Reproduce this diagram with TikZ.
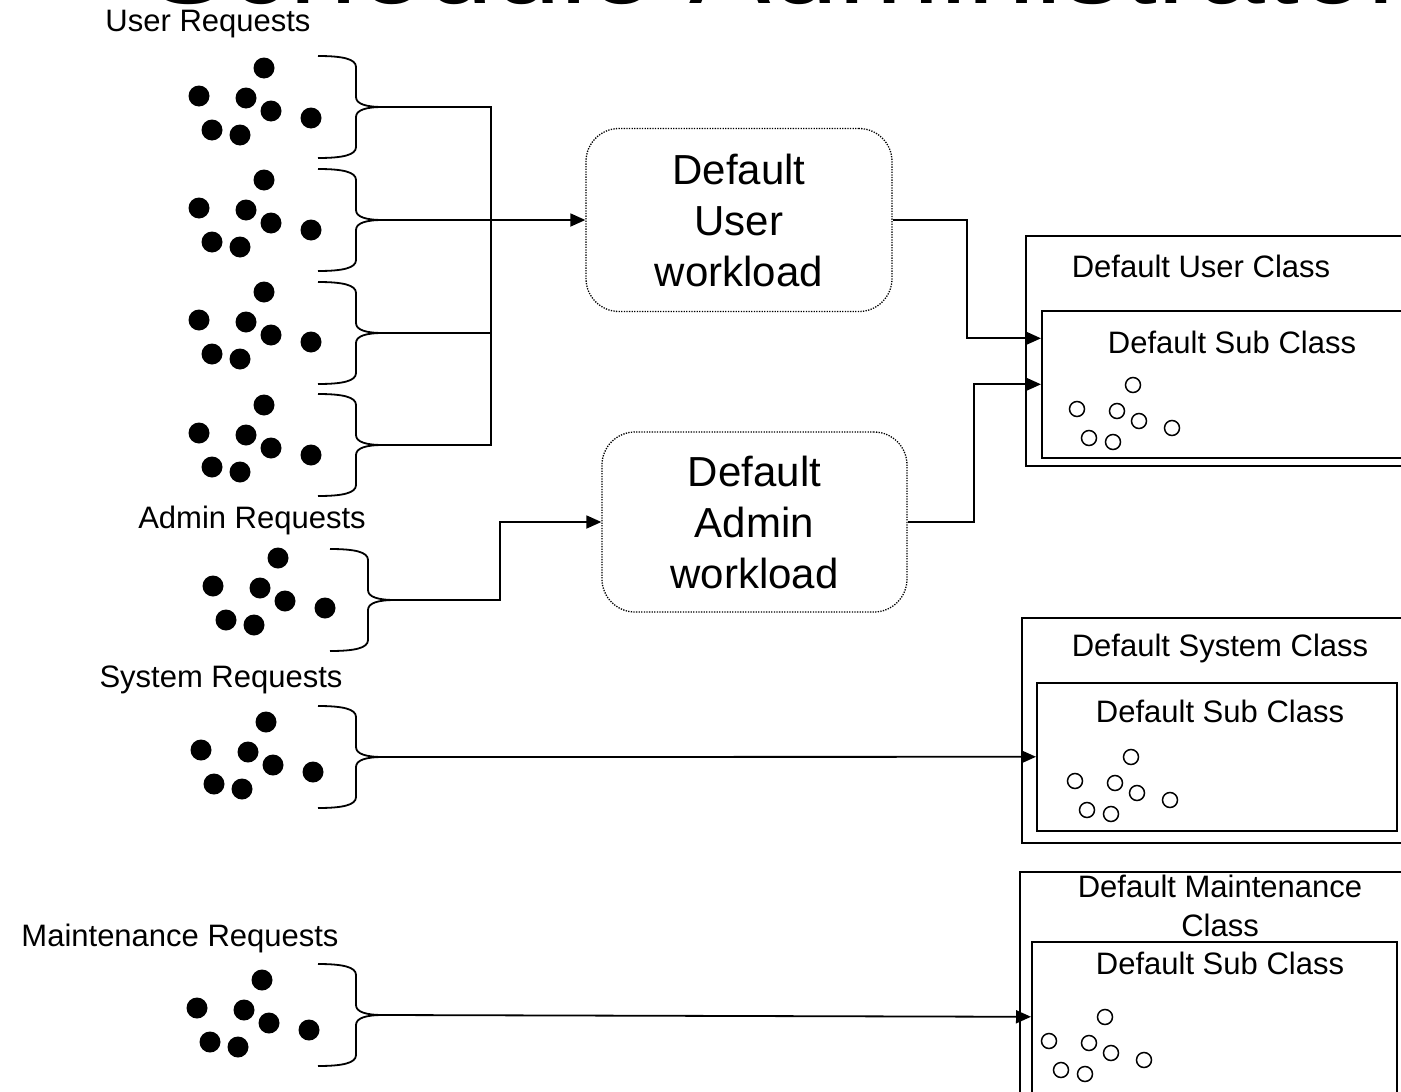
\documentclass[tikz,border=0pt]{standalone}
\usepackage{fontspec}
\setmainfont{Liberation Sans}
\usetikzlibrary{arrows.meta}
\tikzset{
  lbl/.style={inner sep=0pt, font=\fontsize{31}{37}\selectfont, align=center},
  workbox/.style={draw, rounded corners=33pt, line width=1.3pt, dash pattern=on 1.3pt off 1.3pt,
    minimum width=306pt, minimum height=183pt, align=center,
    font=\fontsize{42}{51}\selectfont, inner sep=0pt},
  clsbox/.style={draw, line width=1.6pt, anchor=north west, inner sep=0pt},
  conn/.style={line width=1.8pt},
  arr/.style={conn, -{Triangle[length=15pt,width=13pt]}},
  req/.style={fill=black, circle, inner sep=0pt, minimum size=21pt},
  job/.style={draw, circle, line width=1.5pt, inner sep=0pt, minimum size=15pt},
  brc/.style={line width=1.8pt},
}
\newcommand\reqset[3]{%
  \foreach \dx/\dy [count=\k] in {0/0,-65/28,-18/30,7/43,47/50,-52/62,-24/67}
    {\node[req] (#1\k) at ({#2+(\dx)},{#3+(\dy)}) {};}}
\newcommand\jobset[3]{%
  \foreach \dx/\dy [count=\k] in {0/0,-56/24,-16/26,6/36,39/43,-44/53,-20/57}
    {\node[job] (#1\k) at ({#2+(\dx)},{#3+(\dy)}) {};}}
\newcommand\reqbrace[3]{%
  \draw[brc] ({#2},{#3-51}) .. controls ({#2+25},{#3-51}) and ({#2+38},{#3-48}) .. ({#2+38},{#3-40})
    -- ({#2+38},{#3-10}) .. controls ({#2+38},{#3-3}) and ({#2+48},{#3}) .. ({#2+65},{#3})
    .. controls ({#2+48},{#3}) and ({#2+38},{#3+3}) .. ({#2+38},{#3+10})
    -- ({#2+38},{#3+40}) .. controls ({#2+38},{#3+48}) and ({#2+25},{#3+51}) .. ({#2},{#3+51});
  \coordinate (#1) at ({#2+65},{#3});}
\begin{document}
\begin{tikzpicture}[x=1pt,y=-1pt]
\useasboundingbox (0,0) rectangle (1401,1092);
\fill[white] (0,0) rectangle (1401,1092);
\clip (0,0) rectangle (1401,1092);

% cut-off title
\node[anchor=base west, inner sep=0pt, font=\fontsize{122}{130}\selectfont] (title) at (147,3) {Schedule Administrator};

% request labels
\node[lbl] (lu) at (208,24) {User Requests};
\node[lbl] (la) at (252,520) {Admin Requests};
\node[lbl] (ls) at (221,680) {System Requests};
\node[lbl] (lm) at (180,938) {Maintenance Requests};

% request clusters
\reqset{ua}{264}{68}
\reqset{ub}{264}{180}
\reqset{uc}{264}{292}
\reqset{ud}{264}{405}
\reqset{ad}{278}{558}
\reqset{sy}{266}{722}
\reqset{mt}{262}{980}

% braces
\reqbrace{ut1}{318}{107}
\reqbrace{ut2}{318}{220}
\reqbrace{ut3}{318}{333}
\reqbrace{ut4}{318}{445}
\reqbrace{at}{330}{600}
\reqbrace{st}{318}{757}
\reqbrace{mtt}{318}{1015}

% workloads
\node[workbox] (wl1) at (739,220) {Default\\User\\workload};
\node[workbox, minimum width=305pt, minimum height=180pt] (wl2) at (754.5,522) {Default\\Admin\\workload};

% classes
\node[clsbox, minimum width=420pt, minimum height=230pt] (ucls) at (1025,235) {};
\node[clsbox, minimum width=400pt, minimum height=147pt] (usub) at (1041,310) {};
\node[clsbox, minimum width=420pt, minimum height=225pt] (scls) at (1021,617) {};
\node[clsbox, minimum width=360pt, minimum height=148pt] (ssub) at (1036,682) {};
\node[clsbox, minimum width=420pt, minimum height=260pt] (mcls) at (1019,871) {};
\node[clsbox, minimum width=365pt, minimum height=160pt] (msub) at (1031,941) {};

\node[lbl] (tuc) at (1201,266) {Default User Class};
\node[lbl] (tus) at (1232,342) {Default Sub Class};
\node[lbl] (tsc) at (1220,648) {Default System Class};
\node[lbl] (tss) at (1220,711) {Default Sub Class};
\node[lbl, font=\fontsize{31}{39}\selectfont] (tmc) at (1220,906) {Default Maintenance\\Class};
\node[lbl] (tms) at (1220,963) {Default Sub Class};

\jobset{uj}{1133}{385}
\jobset{sj}{1131}{757}
\jobset{mj}{1105}{1017}

% connectors
\coordinate (bus1) at (491,107);
\coordinate (bus4) at (491,445);
\draw[conn] (ut1) -- (bus1) -- (bus4) -- (ut4);
\draw[conn] (ut3) -- (ut3 -| bus1);
\draw[arr] (ut2) -- (wl1.west);
\draw[arr] (wl1.east) -- ++(74,0) |- ([yshift=46pt]usub.west);
\draw[arr] (wl2.east) -- ++(66,0) |- (usub.west);
\draw[arr] (at) -- ++(105,0) |- (wl2.west);
\draw[arr] (st) -- (ssub.west);
\draw[arr] (mtt) -- ([yshift=5pt]msub.west);
\end{tikzpicture}
\end{document}
